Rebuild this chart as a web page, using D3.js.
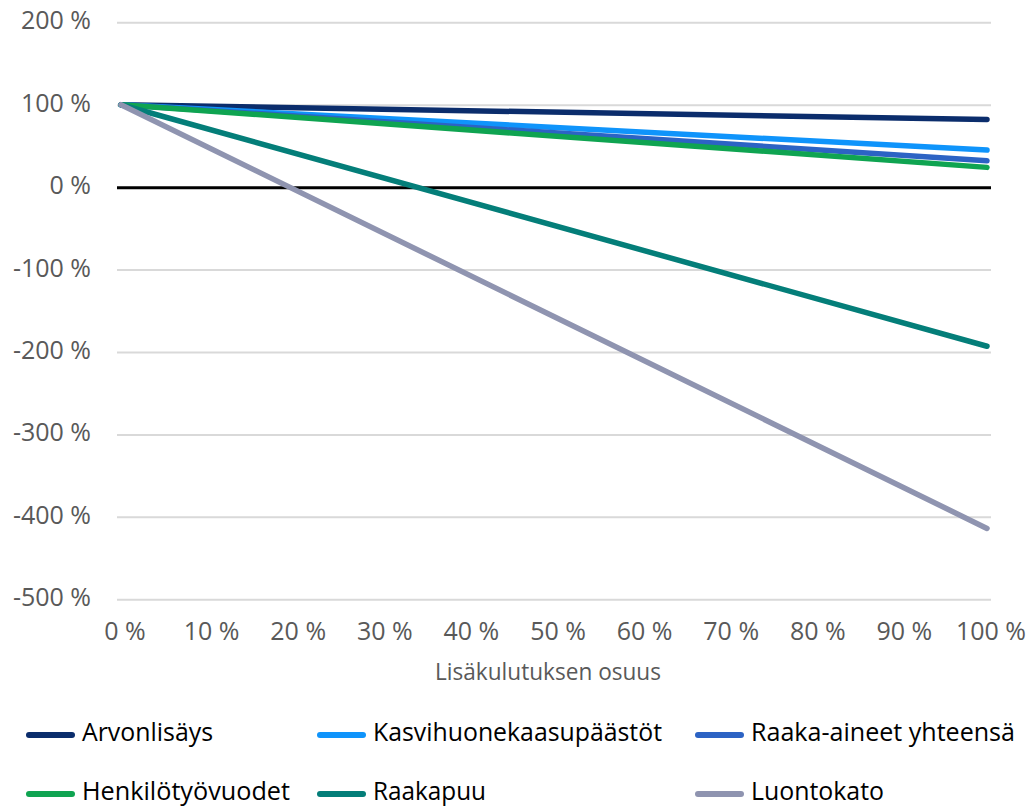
<!DOCTYPE html>
<html>
<head>
<meta charset="utf-8">
<script src="https://cdn.jsdelivr.net/npm/d3@7"></script>
<style>
  html, body { margin: 0; padding: 0; background: #ffffff; }
  svg { display: block; }
</style>
</head>
<body>
<svg id="chart" width="1033" height="807"></svg>
<script>
// Share of additional consumption (x) and the resulting index per indicator (y, %)
const shares = [0, 100];
const seriesNames = [
  "Arvonlisäys",
  "Kasvihuonekaasupäästöt",
  "Raaka-aineet yhteensä",
  "Henkilötyövuodet",
  "Raakapuu",
  "Luontokato"
];
const arvonlisays = [100, 82];
const kasvihuonekaasupaastot = [100, 45];
const raakaAineetYhteensa = [100, 32];
const henkilotyovuodet = [100, 24];
const raakapuu = [100, -193];
const luontokato = [100, -414];
const seriesValues = [arvonlisays, kasvihuonekaasupaastot, raakaAineetYhteensa, henkilotyovuodet, raakapuu, luontokato];
const seriesColors = ["#0b2d6c", "#0f94fb", "#2c63c4", "#0fa451", "#047e79", "#8f94b0"];

const yTicks = [200, 100, 0, -100, -200, -300, -400, -500];
const xTicks = [0, 10, 20, 30, 40, 50, 60, 70, 80, 90, 100];
const xTitle = "Lisäkulutuksen osuus";

const svg = d3.select("#chart");
const font = "'Open Sans', 'Segoe UI', sans-serif";
const labelColor = "#595959";

const plotLeft = 117, plotRight = 991;
const x = d3.scaleLinear().domain([0, 100]).range([121, 987]);
const y = d3.scaleLinear().domain([-500, 200]).range([599.3, 22.3]);
const pct = d => d + " %";

// horizontal gridlines, the zero line drawn in black
const grid = svg.append("g")
  .attr("transform", `translate(${plotLeft},0)`)
  .call(d3.axisLeft(y).tickValues(yTicks).tickSize(-(plotRight - plotLeft)).tickFormat(""));
grid.select(".domain").remove();
grid.selectAll(".tick line")
  .attr("stroke", d => d === 0 ? "#000000" : "#d9d9d9")
  .attr("stroke-width", d => d === 0 ? 3 : 2);

// y tick labels
const yAxis = svg.append("g")
  .attr("transform", `translate(${plotLeft},0)`)
  .call(d3.axisLeft(y).tickValues(yTicks).tickSize(0).tickPadding(26).tickFormat(pct));
yAxis.select(".domain").remove();
yAxis.selectAll("text")
  .attr("dy", "0.26em")
  .attr("fill", labelColor)
  .style("font-family", font)
  .style("font-size", "25px");

// x tick labels
const xAxis = svg.append("g")
  .attr("transform", "translate(3.5,0)")
  .call(d3.axisBottom(x).tickValues(xTicks).tickSize(0).tickFormat(pct));
xAxis.select(".domain").remove();
xAxis.selectAll("text")
  .attr("y", 640)
  .attr("dy", 0)
  .attr("fill", labelColor)
  .style("font-family", font)
  .style("font-size", "25px");

// x axis title
svg.append("text")
  .attr("x", 548)
  .attr("y", 680)
  .attr("text-anchor", "middle")
  .attr("fill", labelColor)
  .attr("textLength", 226)
  .attr("lengthAdjust", "spacingAndGlyphs")
  .style("font-family", font)
  .style("font-size", "24px")
  .text(xTitle);

// series lines
const line = d3.line()
  .x((d, i) => x(shares[i]))
  .y(d => y(d));

svg.append("g")
  .selectAll("path")
  .data(seriesValues)
  .join("path")
  .attr("d", line)
  .attr("fill", "none")
  .attr("stroke", (d, i) => seriesColors[i])
  .attr("stroke-width", 5.5)
  .attr("stroke-linecap", "round")
  .attr("stroke-linejoin", "round");

// legend: three columns, two rows
const legendCols = [26, 317, 695];
const legendRows = [735, 794];
const legendBaselines = [741, 800];
const legendWidths = [131, 289, 264, 208, 113, 133];

const legend = svg.append("g")
  .selectAll("g")
  .data(seriesNames)
  .join("g");

legend.append("line")
  .attr("x1", (d, i) => legendCols[i % 3] + 3)
  .attr("x2", (d, i) => legendCols[i % 3] + 46)
  .attr("y1", (d, i) => legendRows[Math.floor(i / 3)])
  .attr("y2", (d, i) => legendRows[Math.floor(i / 3)])
  .attr("stroke", (d, i) => seriesColors[i])
  .attr("stroke-width", 6)
  .attr("stroke-linecap", "round");

legend.append("text")
  .attr("x", (d, i) => legendCols[i % 3] + 56)
  .attr("y", (d, i) => legendBaselines[Math.floor(i / 3)])
  .attr("fill", "#000000")
  .attr("textLength", (d, i) => legendWidths[i])
  .attr("lengthAdjust", "spacingAndGlyphs")
  .style("font-family", font)
  .style("font-size", "25px")
  .text(d => d);
</script>
</body>
</html>
